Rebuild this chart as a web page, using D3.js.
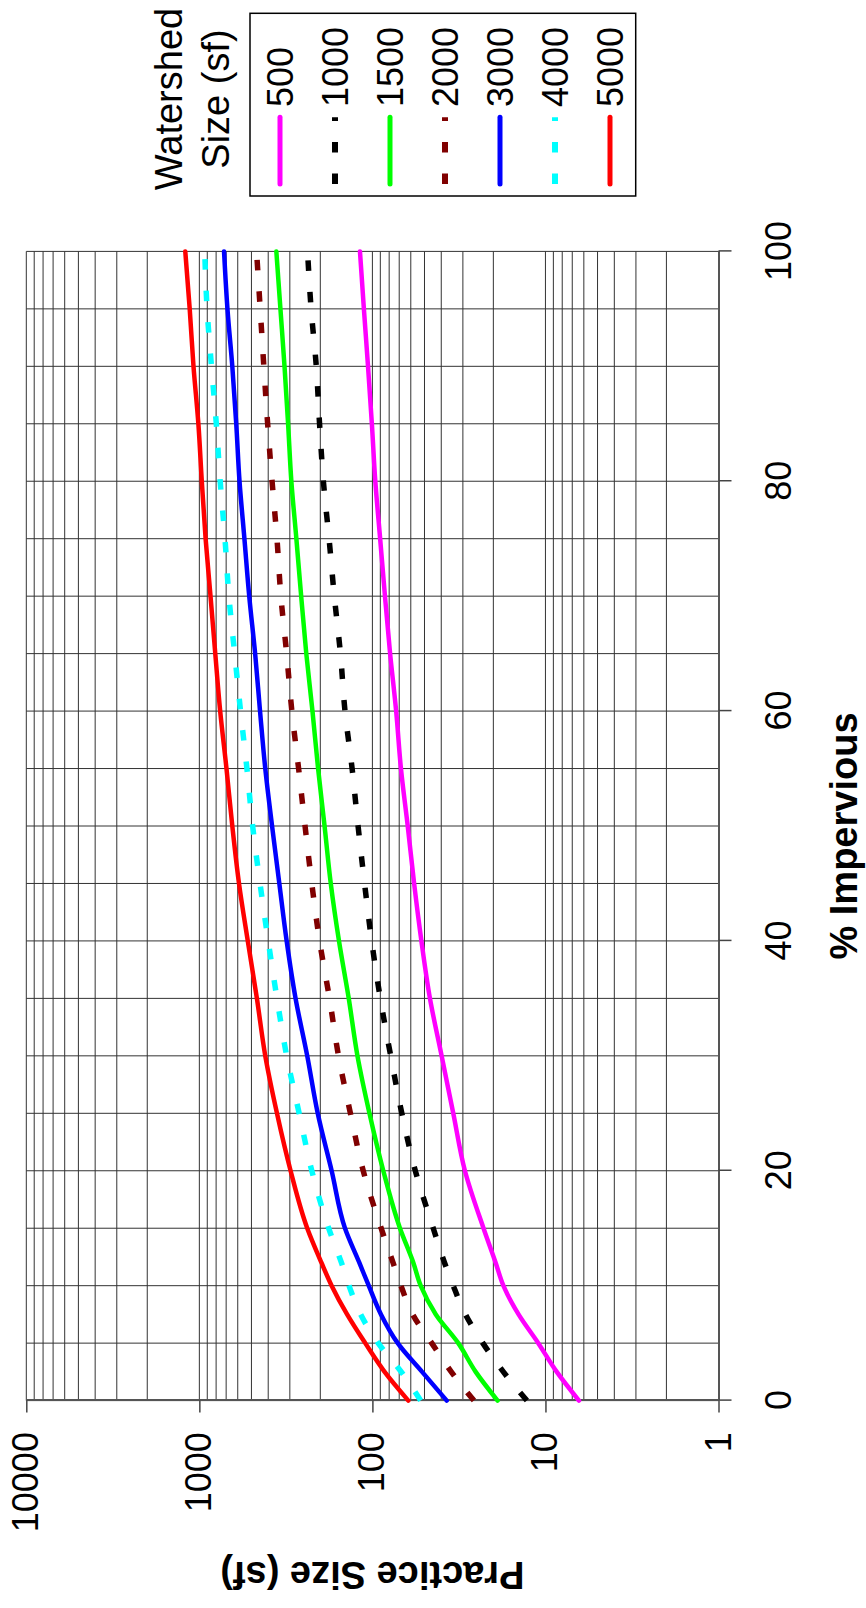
<!DOCTYPE html>
<html>
<head>
<meta charset="utf-8">
<script src="https://cdn.jsdelivr.net/npm/d3@7"></script>
<style>
  html, body { margin: 0; padding: 0; background: #ffffff; }
  svg { display: block; }
</style>
</head>
<body>
<svg id="chart" width="866" height="1608"></svg>
<script>
// ---------------- DATA ----------------
const impervious = [0, 2.5, 5, 7.5, 10, 12, 15, 20, 25, 30, 35, 40, 45, 50, 55, 60, 65, 70, 75, 80, 85, 90, 95, 100];
const ws500  = [6.4, 8.6, 11.0, 14.3, 17.5, 19.4, 22.8, 29.2, 34.1, 39.8, 46.5, 52.1, 57.4, 62.5, 68.4, 72.9, 79, 84.6, 90.2, 96.2, 100.7, 106, 112, 118];
const ws1000 = [12.8, 17.5, 23.0, 29.0, 34.1, 38.3, 44.5, 56.5, 67.6, 78.4, 90, 101, 111, 121, 131, 144, 153, 166, 178, 192, 202, 211, 226, 237];
const ws1500 = [18.9, 25.3, 31.9, 43, 52.6, 58, 69.3, 86.5, 104, 122, 137, 156, 174, 189, 206, 222, 241, 258, 275, 294, 307, 322, 340, 359];
const ws2000 = [25.9, 35, 45.4, 58.5, 68.4, 76, 89, 113, 134, 157, 177, 202, 224, 245, 267, 292, 313, 338, 356, 380, 403, 424, 445, 467];
const ws3000 = [37.2, 51.6, 71.4, 89.2, 105, 119, 144, 172, 207, 238, 278, 313, 345, 380, 416, 446, 476, 515, 549, 586, 612, 645, 688, 720];
const ws4000 = [52.6, 68.1, 92.5, 117, 136.5, 151, 179, 224, 265, 313, 356, 400, 446, 492, 531, 578, 625, 675, 711, 758, 798, 851, 902, 931];
const ws5000 = [62, 85, 110, 140, 172, 197, 238, 297, 356, 416, 465, 525, 590, 645, 697, 758, 809, 862, 920, 968, 1013, 1081, 1137, 1206];

const seriesNames = ["500", "1000", "1500", "2000", "3000", "4000", "5000"];
const seriesValues = [ws500, ws1000, ws1500, ws2000, ws3000, ws4000, ws5000];
const xTickValues = [0, 20, 40, 60, 80, 100];
const yTickValues = [1, 10, 100, 1000, 10000];
const xTitle = "% Impervious";
const yTitle = "Practice Size (sf)";
const legendTitle = ["Watershed", "Size (sf)"];

// ---------------- STYLES ----------------
const styles = [
  { color: "#FF00FF", dashed: false },
  { color: "#000000", dashed: true },
  { color: "#00FF00", dashed: false },
  { color: "#800000", dashed: true },
  { color: "#0000FF", dashed: false },
  { color: "#00FFFF", dashed: true },
  { color: "#FF0000", dashed: false }
];
const FONT = "'Liberation Sans', Arial, Helvetica, sans-serif";

// The chart is drawn in an unrotated frame (1608 wide x 866 tall) and then rotated 90deg CCW.
const FW = 1608;
const svg = d3.select("#chart");
svg.append("rect").attr("width", 866).attr("height", 1608).attr("fill", "#fff");
const g = svg.append("g").attr("transform", `translate(0,${FW}) rotate(-90)`);

const x = d3.scaleLinear().domain([0, 100]).range([207.4, 1356.6]);
const y = d3.scaleLog().domain([1, 10000]).range([718.5, 26.3]);

// Grid
const grid = g.append("g");
grid.selectAll("line.v").data(d3.range(0, 101, 5)).join("line")
  .attr("x1", d => x(d)).attr("x2", d => x(d))
  .attr("y1", y(1)).attr("y2", y(10000))
  .attr("stroke", "#333").attr("stroke-width", 1);
grid.selectAll("line.h").data(y.ticks()).join("line")
  .attr("x1", x(0)).attr("x2", x(100))
  .attr("y1", d => y(d)).attr("y2", d => y(d))
  .attr("stroke", "#333").attr("stroke-width", 1);

// Axes
const xAxis = g.append("g").attr("transform", `translate(0,${y(1)})`)
  .call(d3.axisBottom(x).tickValues(xTickValues).tickSize(13).tickSizeOuter(0).tickPadding(34));
const yAxis = g.append("g").attr("transform", `translate(${x(0)},0)`)
  .call(d3.axisLeft(y).tickValues(yTickValues).tickFormat(d3.format("d")).tickSize(12).tickSizeOuter(0).tickPadding(19.5));
[xAxis, yAxis].forEach(a => {
  a.attr("font-family", FONT).attr("font-size", 36);
  a.select(".domain").attr("stroke", "#555").attr("stroke-width", 2);
  a.selectAll(".tick line").attr("stroke", "#444").attr("stroke-width", 1.5);
  a.selectAll(".tick text").attr("fill", "#000");
});

// Series lines
const line = d3.line()
  .x((d, i) => x(impervious[i]))
  .y(d => y(d))
  .curve(d3.curveMonotoneX);

seriesValues.forEach((vals, i) => {
  const st = styles[i];
  g.append("path")
    .attr("d", line(vals))
    .attr("fill", "none")
    .attr("stroke", st.color)
    .attr("stroke-width", st.dashed ? 5.5 : 4.5)
    .attr("stroke-linecap", st.dashed ? "butt" : "round")
    .attr("stroke-linejoin", "round")
    .attr("stroke-dasharray", st.dashed ? "10.5,21" : null);
});

// Axis titles
g.append("text")
  .attr("x", 772).attr("y", 857)
  .attr("text-anchor", "middle")
  .attr("font-family", FONT).attr("font-size", 38).attr("font-weight", "bold")
  .text(xTitle);
g.append("text")
  .attr("transform", `translate(46,${(y(1) + y(10000)) / 2}) rotate(-90)`)
  .attr("text-anchor", "middle")
  .attr("font-family", FONT).attr("font-size", 38).attr("font-weight", "bold")
  .text(yTitle);

// Legend
const lg = g.append("g");
lg.append("rect")
  .attr("x", 1412).attr("y", 250).attr("width", 182.7).attr("height", 385.7)
  .attr("fill", "#fff").attr("stroke", "#000").attr("stroke-width", 1.5);
seriesNames.forEach((name, i) => {
  const st = styles[i];
  const ly = 280 + i * 55;
  lg.append("line")
    .attr("x1", 1424).attr("x2", 1490.7).attr("y1", ly).attr("y2", ly)
    .attr("stroke", st.color)
    .attr("stroke-width", st.dashed ? 6 : 5)
    .attr("stroke-linecap", st.dashed ? "butt" : "round")
    .attr("stroke-dasharray", st.dashed ? "10.5,21" : null);
  lg.append("text")
    .attr("x", 1501).attr("y", ly).attr("dy", "0.36em")
    .attr("font-family", FONT).attr("font-size", 36)
    .text(name);
});
legendTitle.forEach((t, i) => {
  lg.append("text")
    .attr("x", 1509).attr("y", 182 + i * 47)
    .attr("text-anchor", "middle")
    .attr("font-family", FONT).attr("font-size", 38)
    .text(t);
});
</script>
</body>
</html>
